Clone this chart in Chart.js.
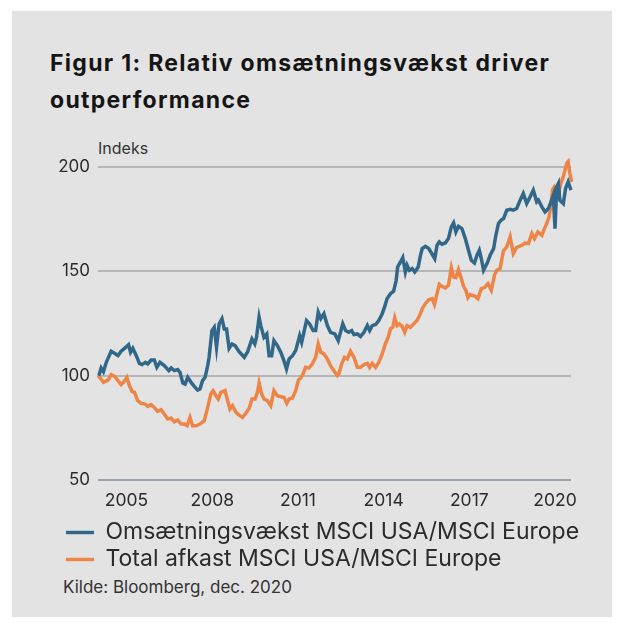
<!DOCTYPE html>
<html>
<head>
<meta charset="utf-8">
<script src="https://cdn.jsdelivr.net/npm/chart.js@4.4.1/dist/chart.umd.min.js"></script>
<style>
	html, body { margin: 0; padding: 0; background: #fff; }
	body { width: 624px; height: 627px; position: relative; overflow: hidden; font-family: Inter, sans-serif; }
	.panel { position: absolute; left: 12px; top: 11px; width: 600px; height: 606px; background: #e3e3e3; }
	.title { position: absolute; left: 50px; top: 45px; font-weight: 700; font-size: 23px; letter-spacing: 1.3px; line-height: 37px; color: #151515; }
	.unit { position: absolute; left: 98px; top: 138px; font-size: 16px; line-height: 20px; color: #333; }
	.source { position: absolute; left: 63px; top: 577px; font-size: 17px; line-height: 20px; color: #333; }
	#wrap { position: absolute; left: 0; top: 0; width: 624px; height: 627px; }
</style>
</head>
<body>
<div class="panel"></div>
<div class="title">Figur 1: Relativ omsætningsvækst driver<br>outperformance</div>
<div class="unit">Indeks</div>
<div class="source">Kilde: Bloomberg, dec. 2020</div>
<div id="wrap"><canvas id="chart"></canvas></div>
<script>
const tickYears = [2005, 2008, 2011, 2014, 2017, 2020];

const omsLabel = 'Omsætningsvækst MSCI USA/MSCI Europe';
const omsYears = [
	2004.03, 2004.11, 2004.19, 2004.29, 2004.46, 2004.58, 2004.70, 2004.81, 2004.93, 2005.07,
	2005.14, 2005.22, 2005.34, 2005.45, 2005.54, 2005.66, 2005.74, 2005.86, 2005.97, 2006.06,
	2006.17, 2006.32, 2006.48, 2006.56, 2006.67, 2006.79, 2006.87, 2006.97, 2007.05, 2007.14,
	2007.26, 2007.37, 2007.49, 2007.57, 2007.66, 2007.75, 2007.84, 2007.89, 2007.99, 2008.07,
	2008.15, 2008.24, 2008.34, 2008.42, 2008.50, 2008.59, 2008.69, 2008.80, 2008.94, 2009.12,
	2009.24, 2009.39, 2009.49, 2009.55, 2009.64, 2009.70, 2009.81, 2009.91, 2009.99, 2010.08,
	2010.16, 2010.28, 2010.40, 2010.51, 2010.60, 2010.69, 2010.81, 2010.92, 2011.06, 2011.13,
	2011.21, 2011.30, 2011.41, 2011.53, 2011.62, 2011.71, 2011.80, 2011.91, 2012.03, 2012.14,
	2012.29, 2012.41, 2012.49, 2012.57, 2012.67, 2012.78, 2012.88, 2012.96, 2013.08, 2013.19,
	2013.31, 2013.43, 2013.51, 2013.60, 2013.72, 2013.83, 2013.95, 2014.04, 2014.12, 2014.24,
	2014.35, 2014.44, 2014.49, 2014.59, 2014.67, 2014.76, 2014.82, 2014.90, 2015.00, 2015.09,
	2015.21, 2015.29, 2015.35, 2015.46, 2015.58, 2015.70, 2015.79, 2015.87, 2015.95, 2016.04,
	2016.16, 2016.27, 2016.37, 2016.45, 2016.53, 2016.62, 2016.74, 2016.86, 2016.97, 2017.07,
	2017.18, 2017.27, 2017.35, 2017.42, 2017.50, 2017.62, 2017.73, 2017.85, 2017.93, 2018.02,
	2018.11, 2018.20, 2018.31, 2018.43, 2018.54, 2018.66, 2018.78, 2018.89, 2019.01, 2019.13,
	2019.24, 2019.36, 2019.42, 2019.54, 2019.65, 2019.77, 2019.86, 2019.94, 2020.00, 2020.06,
	2020.12, 2020.17, 2020.29, 2020.37, 2020.46, 2020.56
];
const omsValues = [
	100, 103.7, 101.9, 106.4, 111.7, 110.7, 109.6, 111.7, 113.1, 114.8,
	111.2, 113.1, 109.6, 105.9, 105.3, 106.4, 105.6, 107.5, 107.5, 104,
	106.4, 104.8, 102.4, 103.7, 102.4, 102.9, 101.6, 96.5, 96, 99.2,
	96.8, 94.9, 93.1, 93.6, 97.6, 99.2, 104.8, 108.8, 121.6, 123.2,
	113.6, 124.8, 127.3, 122.4, 122.4, 113.1, 115.2, 114.4, 111.5, 108.8,
	111.5, 117.6, 115.2, 118.4, 128, 124, 118.4, 120, 109.6, 109.6,
	116.8, 114.4, 111.2, 107.2, 103.2, 108, 109.6, 112, 119.2, 116,
	120.8, 126.4, 124.8, 121.6, 121.6, 130.4, 127.3, 129.7, 124, 120.8,
	120, 116.8, 120.8, 124.8, 121.6, 120.8, 121.6, 119.7, 120, 118.8,
	120.8, 124, 121.6, 124, 124.5, 126.4, 129.7, 133.2, 136.9, 139.3,
	140.5, 145.7, 152.1, 154.5, 156.6, 149.7, 152.9, 150.5, 151.3, 149.7,
	152.1, 157.7, 160.9, 162, 160.9, 158.2, 156.1, 162.5, 164.1, 163,
	163.6, 165.7, 171.3, 173.2, 168.9, 171.6, 170.5, 165.7, 160.1, 155.3,
	154, 157.7, 160.1, 156.1, 150.5, 153.7, 157.7, 160.9, 167.3, 172.9,
	174.5, 175.3, 179.3, 179.7, 179.3, 180.1, 184.1, 187.3, 182.5, 185.7,
	188.9, 183.3, 184.1, 180.9, 178.5, 180.1, 183.3, 186.5, 170.5, 190.5,
	192.2, 184.1, 182.5, 189.7, 192.9, 188.9
];

const afkLabel = 'Total afkast MSCI USA/MSCI Europe';
const afkYears = [
	2004.00, 2004.11, 2004.19, 2004.35, 2004.46, 2004.58, 2004.70, 2004.81, 2004.91, 2005.01,
	2005.10, 2005.19, 2005.28, 2005.39, 2005.51, 2005.65, 2005.74, 2005.86, 2005.97, 2006.09,
	2006.21, 2006.32, 2006.44, 2006.56, 2006.67, 2006.79, 2006.91, 2007.02, 2007.12, 2007.22,
	2007.31, 2007.43, 2007.57, 2007.72, 2007.84, 2007.95, 2008.03, 2008.13, 2008.21, 2008.30,
	2008.45, 2008.54, 2008.62, 2008.71, 2008.83, 2008.94, 2009.06, 2009.18, 2009.29, 2009.39,
	2009.50, 2009.58, 2009.64, 2009.73, 2009.81, 2009.93, 2010.05, 2010.16, 2010.28, 2010.40,
	2010.51, 2010.61, 2010.69, 2010.81, 2010.92, 2011.02, 2011.10, 2011.18, 2011.27, 2011.39,
	2011.50, 2011.62, 2011.71, 2011.80, 2011.91, 2012.03, 2012.14, 2012.26, 2012.38, 2012.43,
	2012.53, 2012.63, 2012.73, 2012.84, 2012.96, 2013.08, 2013.19, 2013.31, 2013.43, 2013.51,
	2013.60, 2013.72, 2013.83, 2013.95, 2014.06, 2014.16, 2014.24, 2014.32, 2014.39, 2014.47,
	2014.55, 2014.65, 2014.74, 2014.82, 2014.94, 2015.05, 2015.17, 2015.29, 2015.35, 2015.46,
	2015.58, 2015.70, 2015.78, 2015.87, 2015.95, 2016.04, 2016.16, 2016.27, 2016.37, 2016.45,
	2016.53, 2016.62, 2016.72, 2016.80, 2016.88, 2016.95, 2017.03, 2017.11, 2017.21, 2017.30,
	2017.42, 2017.53, 2017.65, 2017.77, 2017.88, 2017.96, 2018.08, 2018.14, 2018.20, 2018.31,
	2018.43, 2018.54, 2018.66, 2018.84, 2018.95, 2019.07, 2019.19, 2019.28, 2019.40, 2019.54,
	2019.63, 2019.71, 2019.79, 2019.86, 2019.91, 2019.98, 2020.06, 2020.12, 2020.20, 2020.29,
	2020.41, 2020.46, 2020.52, 2020.58
];
const afkValues = [
	100, 98.4, 96.8, 97.9, 100.5, 99.7, 97.6, 95.7, 97.1, 99.2,
	95.2, 92.5, 92, 88, 86.7, 86.4, 85.3, 86.1, 84.8, 82.9,
	83.7, 81.6, 79.2, 79.7, 77.9, 78.8, 76.8, 76.8, 76, 80,
	76, 76, 76.8, 78.4, 84.8, 91.2, 92.8, 90.4, 88.8, 92,
	92.8, 88, 84, 85.6, 82.4, 81.1, 80, 82.1, 84.3, 88.8,
	88.8, 92, 96.5, 91.2, 88.8, 88, 85.6, 92.8, 90.4, 89.9,
	89.6, 86.7, 88.8, 89.3, 92.8, 97.9, 98.9, 100.8, 104, 103.7,
	105.6, 108.8, 115.2, 111.2, 110.4, 108, 104.8, 102.4, 100, 100.8,
	105.6, 108.8, 108, 111.7, 108.8, 104, 104, 105.3, 105.9, 104,
	105.9, 104, 106.4, 110.4, 115.2, 118.4, 122.4, 123.2, 127.7, 124,
	124.8, 123.6, 120.8, 124, 123.2, 124.8, 126.4, 129.7, 132.1, 134.5,
	136.4, 136.9, 134.1, 139.3, 143.8, 142.8, 142, 143.3, 151.8, 147.3,
	147, 150.8, 146.5, 142.8, 140.9, 137.4, 138.9, 138.5, 138, 136.9,
	141.7, 142.2, 144.1, 140.9, 148.1, 150.5, 151.3, 156, 160, 161.7,
	166.5, 158.5, 161.5, 162.5, 163.5, 163.3, 168.1, 165.7, 168.9, 167.3,
	170.5, 172.9, 176.1, 181.7, 188.9, 190.5, 188.9, 186.5, 192.2, 195.4,
	201.8, 202.6, 197, 192.9
];

Chart.defaults.font.family = 'Inter, sans-serif';
Chart.defaults.color = '#2b2b2b';

const toPoints = (xs, ys) => xs.map((x, i) => ({ x: x, y: ys[i] }));

// the legend sits indented under the plot but is wider than the plot area
const legendBox = {
	id: 'legendBox',
	afterLayout(chart) {
		chart.legend.left = 62;
		chart.legend.right = chart.width - 10;
	}
};

new Chart(document.getElementById('chart'), {
	type: 'line',
	data: {
		datasets: [{
			label: omsLabel,
			data: toPoints(omsYears, omsValues),
			borderColor: '#316889',
			backgroundColor: '#316889',
			borderWidth: 3.5,
			pointRadius: 0,
			clip: false
		}, {
			label: afkLabel,
			data: toPoints(afkYears, afkValues),
			borderColor: '#ee8546',
			backgroundColor: '#ee8546',
			borderWidth: 3.5,
			pointRadius: 0,
			clip: false
		}]
	},
	options: {
		responsive: true,
		maintainAspectRatio: false,
		animation: false,
		layout: { padding: { left: 10, right: 53, top: 167, bottom: 46 } },
		scales: {
			x: {
				type: 'linear',
				min: 2004,
				max: 2020.56,
				grid: { display: false, drawTicks: false },
				border: { display: false },
				afterBuildTicks: scale => { scale.ticks = tickYears.map(v => ({ value: v })); },
				afterFit: scale => { scale.height = 37; },
				ticks: {
					autoSkip: false,
					maxRotation: 0,
					padding: 10,
					font: { size: 17.5 },
					callback: v => String(v)
				}
			},
			y: {
				min: 50,
				max: 200,
				border: { display: false },
				grid: {
					drawTicks: false,
					lineWidth: 2,
					color: ctx => ctx.tick && ctx.tick.value === 50 ? '#9aa3ad' : '#b6b6b6'
				},
				afterFit: scale => { scale.width = 88; },
				ticks: { stepSize: 50, padding: 8, font: { size: 17 } }
			}
		},
		plugins: {
			tooltip: { enabled: false },
			legend: {
				position: 'bottom',
				align: 'start',
				labels: {
					usePointStyle: true,
					pointStyle: 'line',
					pointStyleWidth: 28,
					padding: 4,
					font: { size: 23 },
					color: '#2b2b2b'
				}
			}
		}
	},
	plugins: [legendBox]
});
</script>
</body>
</html>
